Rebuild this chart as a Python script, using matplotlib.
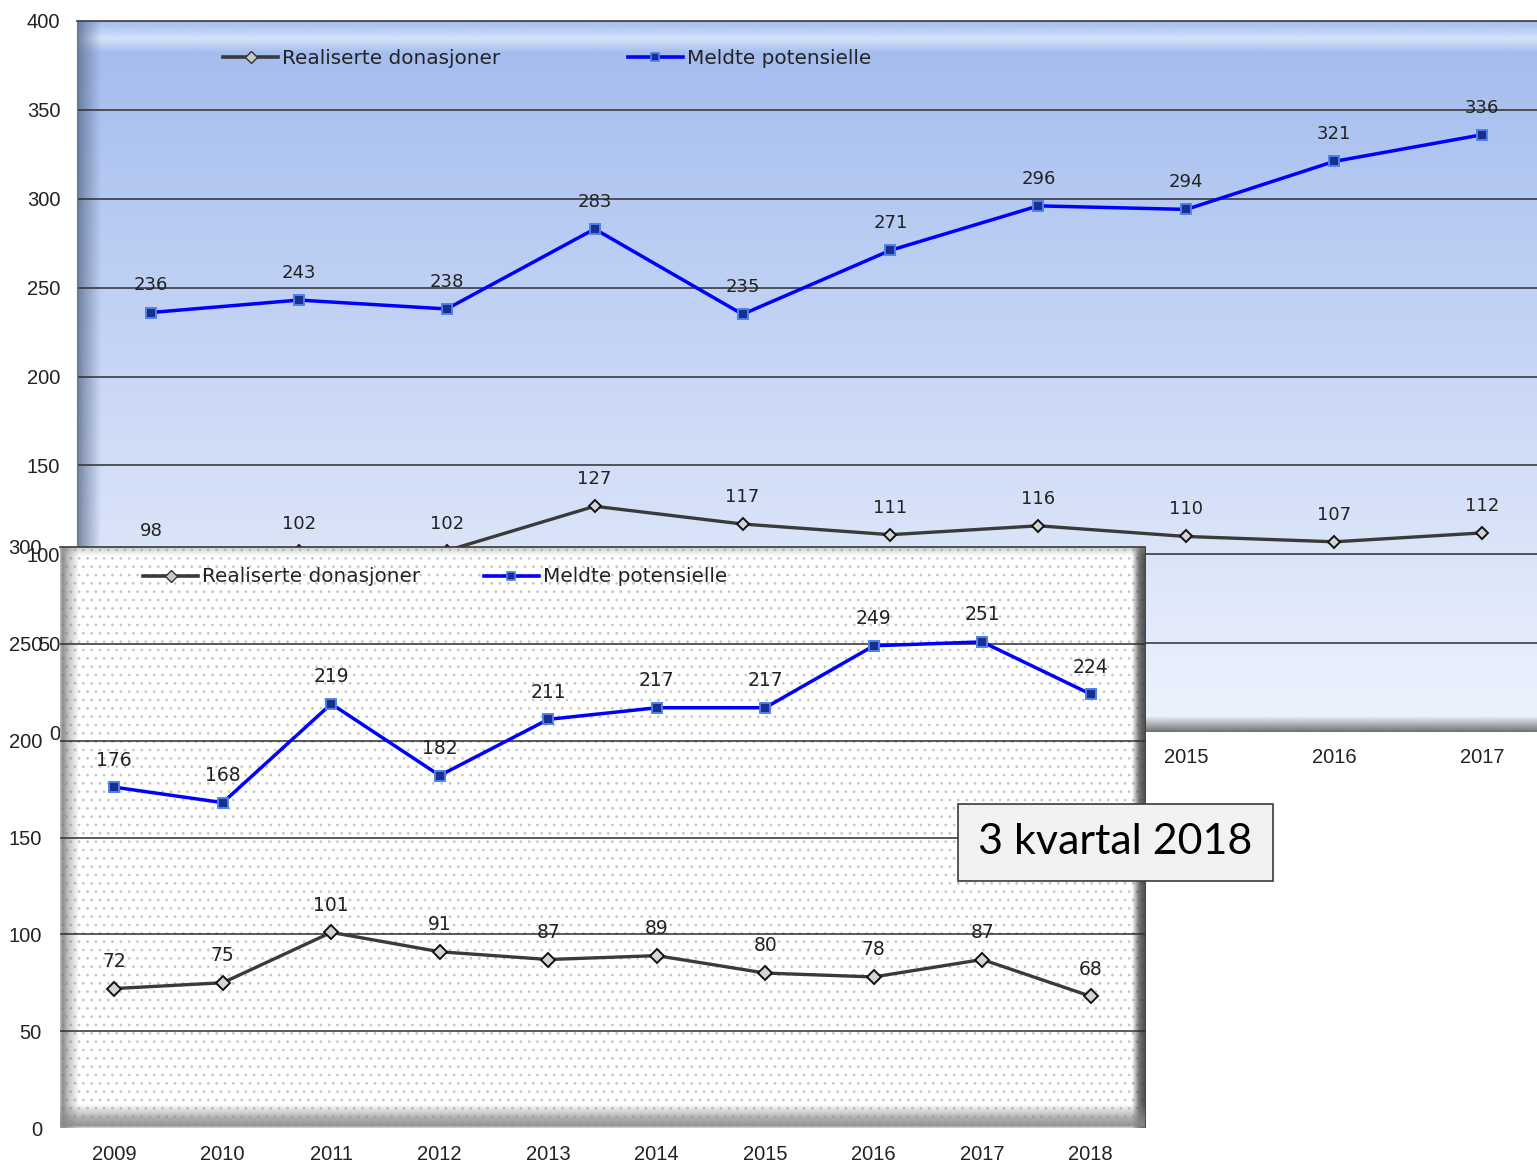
import numpy as np
import matplotlib
matplotlib.use("Agg")
import matplotlib.pyplot as plt
from matplotlib.colors import to_rgba
from matplotlib.patches import Rectangle
from matplotlib.lines import Line2D

# Full-year figures, 2008-2017
years_all = [2008, 2009, 2010, 2011, 2012, 2013, 2014, 2015, 2016, 2017]
meldte_all = [236, 243, 238, 283, 235, 271, 296, 294, 321, 336]
realiserte_all = [98, 102, 102, 127, 117, 111, 116, 110, 107, 112]

# Third-quarter figures, 2009-2018
years_q3 = [2009, 2010, 2011, 2012, 2013, 2014, 2015, 2016, 2017, 2018]
meldte_q3 = [176, 168, 219, 182, 211, 217, 217, 249, 251, 224]
realiserte_q3 = [72, 75, 101, 91, 87, 89, 80, 78, 87, 68]

yticks_all = [0, 50, 100, 150, 200, 250, 300, 350, 400]
yticks_q3 = [0, 50, 100, 150, 200, 250, 300]
legend_labels = ["Realiserte donasjoner", "Meldte potensielle"]
box_text = "3 kvartal 2018"

W, H = 1537, 1164
plt.rcParams["hatch.color"] = "#c3c8c8"
plt.rcParams["hatch.linewidth"] = 0.75
fig = plt.figure(figsize=(W / 100, H / 100), dpi=100)
fig.patch.set_facecolor("white")

TICK_FONT = dict(family="Liberation Sans", size=14.5)
TEXT_COLOR = "#222222"


def px_axes(left, top, right, bottom):
    return fig.add_axes([left / W, 1 - bottom / H, (right - left) / W, (bottom - top) / H])


def gradient(ax, extent, color, stops, alphas, vertical=True, z=0.5, n=256):
    """Paint a colour band whose alpha follows the given stops (0 = top/left)."""
    t = np.linspace(0, 1, n)
    rgba = np.tile(np.array(to_rgba(color)), (n, 1))
    rgba[:, 3] = np.interp(t, stops, alphas)
    img = rgba[:, None, :] if vertical else rgba[None, :, :]
    ax.imshow(img, extent=extent, transform=ax.transAxes, aspect="auto",
              origin="upper", interpolation="bilinear", zorder=z)


def color_ramp(ax, extent, c_top, c_bottom, z=0.2, n=256):
    t = np.linspace(0, 1, n)[:, None]
    c0 = np.array(to_rgba(c_top))
    c1 = np.array(to_rgba(c_bottom))
    img = (c0 * (1 - t) + c1 * t)[:, None, :]
    ax.imshow(img, extent=extent, transform=ax.transAxes, aspect="auto",
              origin="upper", interpolation="bilinear", zorder=z)


def style_axes(ax, xlim, ylim, yticks, xticks, xpad, ypad):
    ax.set_xlim(*xlim)
    ax.set_ylim(*ylim)
    ax.set_yticks(yticks)
    ax.set_xticks(xticks)
    ax.set_xticklabels([str(x) for x in xticks])
    for lab in ax.get_xticklabels() + ax.get_yticklabels():
        lab.set_fontfamily(TICK_FONT["family"])
        lab.set_fontsize(TICK_FONT["size"])
        lab.set_color(TEXT_COLOR)
    ax.tick_params(axis="x", length=0, pad=xpad)
    ax.tick_params(axis="y", length=0, pad=ypad)
    for v in yticks[1:-1]:
        ax.axhline(v, color="#2e2e2e", lw=1.1, zorder=1.5)


def draw_series(ax, x, meldte, realiserte, ms_sq, ms_d, label_size):
    ax.plot(x, realiserte, color="#3a3a3a", lw=2.4, marker="D", ms=ms_d,
            mfc="#d4d4d4", mec="#111111", mew=1.4, zorder=5)
    ax.plot(x, meldte, color="#0000ff", lw=2.5, marker="s", ms=ms_sq,
            mfc="#1a2f8c", mec="#4f7ff0", mew=1.4, zorder=6)
    for series in (realiserte, meldte):
        for xi, v in zip(x, series):
            ax.annotate(str(v), (xi, v), xytext=(0, 19.5), textcoords="offset points",
                        ha="center", va="center", fontsize=label_size,
                        family="DejaVu Sans", color=TEXT_COLOR, zorder=7)


def add_legend(ax, x_px, y_px, colspace):
    handles = [
        Line2D([], [], color="#3a3a3a", lw=2.6, marker="D", ms=6,
               mfc="#c8c8c8", mec="#333333", mew=1.0),
        Line2D([], [], color="#0000ff", lw=2.6, marker="s", ms=6,
               mfc="#1a2f8c", mec="#4f7ff0", mew=1.2),
    ]
    ax.legend(handles, legend_labels, loc="center left",
              bbox_to_anchor=(x_px / W, 1 - y_px / H), bbox_transform=fig.transFigure,
              ncol=2, frameon=False, borderpad=0, borderaxespad=0,
              handlelength=2.75, handletextpad=0.22, columnspacing=colspace,
              prop=dict(family="DejaVu Sans", size=14.4), labelcolor=TEXT_COLOR)


# ---------------- full-year chart (behind) ----------------
ax_b = px_axes(77, 21, 1556, 732)
color_ramp(ax_b, (0, 1, 0, 1), "#a2bbee", "#eef3fd", z=0.1)
# bevel: bright band near the top, shaded left edge, dark bottom rim
gradient(ax_b, (0, 1, 0.955, 1.0), "#dbe8fc", [0, 0.2, 0.55, 1], [0.0, 0.3, 0.9, 0.0], z=0.3)
gradient(ax_b, (0, 0.016, 0, 1), "#5c6c8c", [0, 0.3, 1], [0.85, 0.55, 0.0], vertical=False, z=0.4)
gradient(ax_b, (0, 1, 0, 0.022), "#606060", [0, 0.5, 1], [0.0, 0.45, 0.9], z=0.4)
style_axes(ax_b, (2007.5, 2017.5), (0, 400), yticks_all, years_all, xpad=11.5, ypad=12)
for side in ("right", "bottom"):
    ax_b.spines[side].set_visible(False)
ax_b.spines["top"].set_color("#3a3a3a")
ax_b.spines["top"].set_linewidth(1.2)
ax_b.spines["left"].set_color("#6c7890")
draw_series(ax_b, years_all, meldte_all, realiserte_all, ms_sq=7, ms_d=6.5, label_size=13)
add_legend(ax_b, 223, 58, colspace=6.35)

# ---------------- third-quarter chart (front) ----------------
ax_f = px_axes(60, 547, 1145, 1128)
ax_f.set_facecolor("white")
ax_f.add_patch(Rectangle((0, 0), 1, 1, transform=ax_f.transAxes, facecolor="white",
                         edgecolor="#c3c8c8", hatch="..", linewidth=0, zorder=0.1))
gradient(ax_f, (0, 0.017, 0, 1), "#7a7a7a", [0, 0.15, 0.4, 1], [0.45, 0.85, 0.5, 0.0],
         vertical=False, z=0.4)
gradient(ax_f, (0.988, 1.0, 0, 1), "#3c3c3c", [0, 0.5, 1], [0.0, 0.7, 0.95],
         vertical=False, z=0.4)
gradient(ax_f, (0, 1, 0, 0.04), "#8a8a8a", [0, 0.6, 0.9, 1], [0.0, 0.7, 0.9, 0.3], z=0.4)
gradient(ax_f, (0, 1, 0.985, 1.0), "#9a9a9a", [0, 1], [0.5, 0.0], z=0.4)
style_axes(ax_f, (2008.5, 2018.5), (0, 300), yticks_q3, years_q3, xpad=12, ypad=13)
for side in ("right", "bottom", "left"):
    ax_f.spines[side].set_visible(False)
ax_f.spines["top"].set_color("#3a3a3a")
ax_f.spines["top"].set_linewidth(1.2)
draw_series(ax_f, years_q3, meldte_q3, realiserte_q3, ms_sq=7, ms_d=7.5, label_size=13.5)
add_legend(ax_f, 143, 577, colspace=3.15)

# ---------------- period caption ----------------
bx0, by0, bx1, by1 = 958, 804, 1273, 881
fig.add_artist(Rectangle((bx0 / W, 1 - by1 / H), (bx1 - bx0) / W, (by1 - by0) / H,
                         transform=fig.transFigure, facecolor="#f2f2f2",
                         edgecolor="#3a3a3a", linewidth=1.2, zorder=10))
fig.text((bx0 + bx1) / 2 / W, 1 - (by0 + by1) / 2 / H, box_text, ha="center", va="center",
         fontsize=31, family="Lato", color="black", zorder=11)

fig.savefig("out.png", dpi=100)
